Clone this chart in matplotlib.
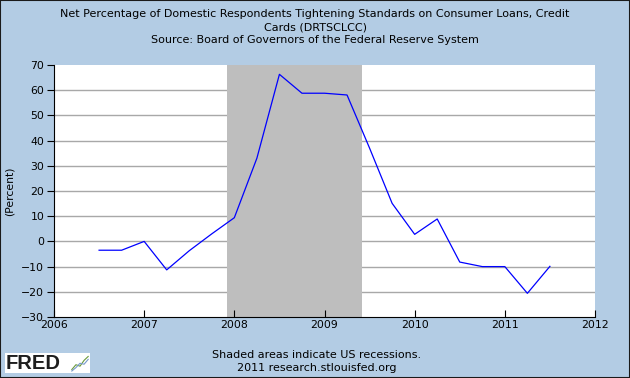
import matplotlib
matplotlib.use("Agg")
import matplotlib.pyplot as plt
from matplotlib.patches import Rectangle

# quarterly observations (decimal year) and net percentage tightening
dates = [2006.5, 2006.75, 2007.0, 2007.25, 2007.5, 2007.75, 2008.0, 2008.25,
         2008.5, 2008.75, 2009.0, 2009.25, 2009.5, 2009.75, 2010.0, 2010.25,
         2010.5, 2010.75, 2011.0, 2011.25, 2011.5]
values = [-3.5, -3.5, 0.0, -11.3, -3.7, 3.0, 9.4, 33.0,
          66.3, 58.8, 58.8, 58.1, 37.0, 15.1, 2.8, 8.9,
          -8.2, -10.0, -10.0, -20.6, -9.9]
recession = (2007.917, 2009.417)
year_ticks = [2006, 2007, 2008, 2009, 2010, 2011, 2012]
y_ticks = list(range(-30, 71, 10))

bg = "#B3CCE4"
fig = plt.figure(figsize=(6.3, 3.78), dpi=100, facecolor=bg)
ax = fig.add_axes([54 / 630, 1 - 317 / 378, 541 / 630, 252 / 378])
ax.set_facecolor("white")

ax.axvspan(recession[0], recession[1], color="#BEBEBE", lw=0, zorder=1)
for y in y_ticks[1:-1]:
    ax.axhline(y, color="#A8A8A8", lw=1.0, zorder=0)
ax.plot(dates, values, color="#0000FF", lw=0.9, zorder=3)

ax.set_xlim(2006, 2012)
ax.set_ylim(-30, 70)
ax.set_xticks(year_ticks)
ax.set_yticks(y_ticks)
ax.tick_params(axis="x", direction="in", length=5, labelsize=7.8, pad=2)
ax.tick_params(axis="y", direction="out", length=5, labelsize=7.8, pad=2)
for s in ["top", "right"]:
    ax.spines[s].set_visible(False)
ax.set_ylabel("(Percent)", fontsize=7.8, labelpad=5)

fs = 8
fig.text(0.5, 1 - 14 / 378, "Net Percentage of Domestic Respondents Tightening Standards on Consumer Loans, Credit",
         ha="center", va="center", fontsize=fs)
fig.text(0.5, 1 - 27 / 378, "Cards (DRTSCLCC)", ha="center", va="center", fontsize=fs)
fig.text(0.5, 1 - 40 / 378, "Source: Board of Governors of the Federal Reserve System",
         ha="center", va="center", fontsize=fs)
fig.text(317 / 630, 1 - 355 / 378, "Shaded areas indicate US recessions.", ha="center", va="center", fontsize=fs)
fig.text(317 / 630, 1 - 368 / 378, "2011 research.stlouisfed.org", ha="center", va="center", fontsize=fs)

# FRED logo
fig.patches.append(Rectangle((5 / 630, 1 - 373 / 378), 85 / 630, 20 / 378,
                             transform=fig.transFigure, facecolor="white", edgecolor="none"))
fig.text(6 / 630, 1 - 363.5 / 378, "FRED", ha="left", va="center", fontsize=14.5,
         fontweight="bold", family="Liberation Sans", color="#1E1E1E")
icon = fig.add_axes([71 / 630, 1 - 372 / 378, 18 / 630, 17 / 378])
icon.set_zorder(5)
icon.plot([0, 1, 2, 3, 4], [0.5, 1.5, 1.2, 2.4, 3.2], color="#6A9A3A", lw=0.8)
icon.plot([0, 1, 2, 3, 4], [0.2, 0.9, 1.8, 1.6, 2.6], color="#7799CC", lw=0.8)
icon.set_xlim(-0.2, 4.2)
icon.set_ylim(0, 3.5)
icon.axis("off")

# outer frame
fig.patches.append(Rectangle((0, 0), 1, 1, transform=fig.transFigure, fill=False,
                             edgecolor="#1A1A1A", lw=1.5))

fig.savefig("out.png", dpi=100, facecolor=bg)
